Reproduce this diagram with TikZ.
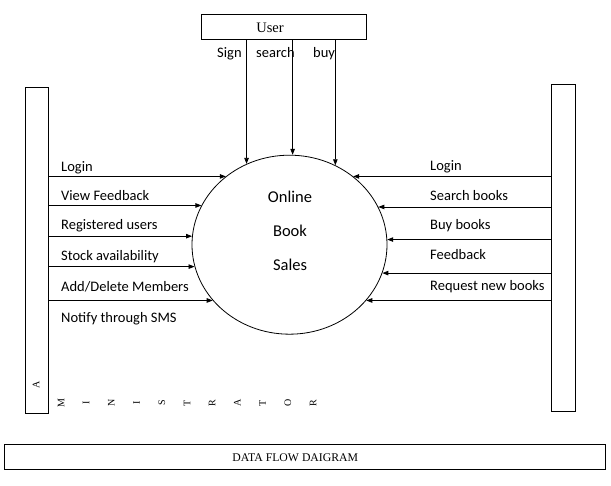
\documentclass[tikz,border=0pt]{standalone}
\usepackage{fontspec}
\setmainfont{Liberation Serif}
\newfontfamily\calibri{Carlito}
\usepackage{tikz}
\usetikzlibrary{shapes.geometric, arrows.meta, positioning}

\begin{document}
\begin{tikzpicture}[
  x=1pt, y=1pt,
  entity/.style={rectangle, draw, line width=1pt, inner sep=0pt},
  process/.style={ellipse, draw, line width=0.8pt, minimum width=195pt,
                  minimum height=179pt, inner sep=0pt},
  proctext/.style={font=\calibri\fontsize{16.5}{34}\selectfont, align=center, inner sep=0pt},
  flowlbl/.style={font=\calibri\fontsize{14.5}{17}\selectfont, inner sep=0pt, anchor=base west},
  vletter/.style={font=\fontsize{10}{12}\selectfont, rotate=90, inner sep=0pt},
  flow/.style={-{Triangle[length=6pt, width=4.5pt]}, line width=0.8pt}
]
\useasboundingbox (0,0) rectangle (611,486);

% Entidades
\node[entity, minimum width=165pt, minimum height=25pt, font=\fontsize{14.5}{17}\selectfont]
  (user) at (283.5,458.5) {User\hspace*{27pt}};
\node[entity, minimum width=23.7pt, minimum height=325.7pt] (admin) at (36.85,235.8) {};
\node[entity, minimum width=24.4pt, minimum height=327pt]   (cust)  at (563.5,237.5) {};

% Proceso central
\node[process] (sales) at (289.5,241.3) {};
\node[proctext] (salestext) at (290,255.5) {Online\\Book\\Sales};

% Flujos del usuario
\draw[flow] (user.south -| sales.118) -- (sales.118);
\draw[flow] (user.south -| sales.88)  -- (sales.88);
\draw[flow] (user.south -| sales.60)  -- (sales.60);
\node[flowlbl] (l-sign)   at (217,428) {Sign};
\node[flowlbl] (l-search) at (256,428) {search};
\node[flowlbl] (l-buy)    at (313,428) {buy};

% Flujos del administrador
\draw[flow] (admin.east |- sales.133) -- (sales.133);
\draw[flow] (admin.east |- sales.156) -- (sales.156);
\draw[flow] (admin.east |- sales.175) -- (sales.175);
\draw[flow] (admin.east |- sales.193) -- (sales.193);
\draw[flow] (admin.east |- sales.216) -- (sales.216);
\node[flowlbl] (a-login)  at (61,314) {Login};
\node[flowlbl] (a-view)   at (61,285) {View Feedback};
\node[flowlbl] (a-reg)    at (61,256) {Registered users};
\node[flowlbl] (a-stock)  at (61,225) {Stock availability};
\node[flowlbl] (a-add)    at (61,194) {Add/Delete Members};
\node[flowlbl] (a-notify) at (61,163) {Notify through SMS};

% Flujos del cliente
\draw[flow] (cust.west |- sales.47)  -- (sales.47);
\draw[flow] (cust.west |- sales.23)  -- (sales.23);
\draw[flow] (cust.west |- sales.3)   -- (sales.3);
\draw[flow] (cust.west |- sales.343) -- (sales.343);
\draw[flow] (cust.west |- sales.324) -- (sales.324);
\node[flowlbl] (c-login)  at (430,315) {Login};
\node[flowlbl] (c-search) at (430,285) {Search books};
\node[flowlbl] (c-buy)    at (430,256) {Buy books};
\node[flowlbl] (c-feed)   at (430,226) {Feedback};
\node[flowlbl] (c-req)    at (430,195) {Request new books};

% Etiqueta vertical
\node[vletter] (adm-0) at (36,101) {A};
\foreach \ch [count=\i] in {M,I,N,I,S,T,R,A,T,O,R}
  \node[vletter] (adm-\i) at ({61+25.2*(\i-1)},83) {\ch};

% Titulo
\node[entity, minimum width=601pt, minimum height=25pt, font=\fontsize{11.75}{14}\selectfont]
  (title) at (305.3,28.5) {DATA FLOW DAIGRAM\hspace*{20pt}};

\end{tikzpicture}
\end{document}
